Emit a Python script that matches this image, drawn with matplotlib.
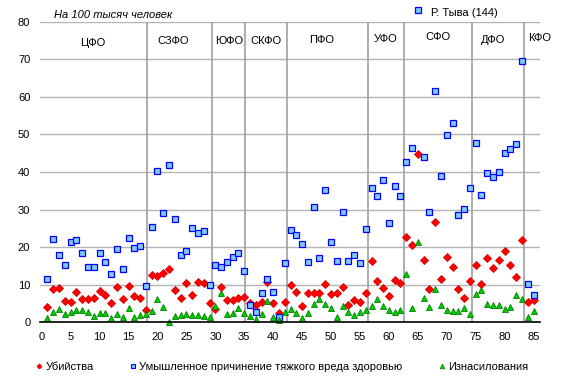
import matplotlib
matplotlib.use("Agg")
import matplotlib.pyplot as plt
from matplotlib.lines import Line2D

plt.rcParams['font.family'] = ['Liberation Sans', 'DejaVu Sans']

# номер региона 1..85
regions = list(range(1, 86))

murders = [4.1, 8.9, 9.1, 5.7, 5.4, 8.1, 6.2, 6.2, 6.5, 8.3,
           7.3, 5.1, 9.4, 6.2, 9.7, 7.0, 6.5, 3.3, 12.6, 12.2,
           13.1, 14.2, 8.6, 6.5, 10.5, 7.3, 10.7, 10.5, 5.1, 3.5,
           9.4, 5.9, 5.9, 6.5, 6.7, 5.1, 4.6, 5.4, 10.7, 5.1,
           2.5, 5.4, 9.9, 8.1, 4.3, 7.8, 7.8, 7.8, 10.2, 7.5,
           7.8, 9.4, 4.6, 5.9, 5.4, 7.8, 16.3, 11.0, 9.1, 6.9,
           11.3, 10.5, 22.7, 20.7, 44.7, 16.6, 8.8, 26.7, 11.4, 17.3,
           14.8, 8.8, 6.6, 11.1, 15.2, 10.1, 17.0, 14.4, 16.6, 18.9,
           15.2, 12.0, 21.8, 5.3, 5.9]

injuries = [11.5, 22.1, 18.0, 15.3, 21.4, 21.9, 18.5, 14.7, 14.7, 18.5,
            16.0, 12.9, 19.6, 14.3, 22.5, 19.8, 20.4, 9.7, 25.4, 40.2,
            29.1, 41.9, 27.6, 18.0, 19.0, 25.2, 23.8, 24.4, 10.0, 15.3,
            14.8, 16.0, 17.5, 18.5, 13.6, 4.5, 2.7, 7.8, 11.5, 8.1,
            1.4, 15.9, 24.6, 23.2, 20.9, 16.1, 30.8, 17.2, 35.3, 21.4,
            16.4, 29.4, 16.4, 18.0, 15.9, 24.9, 35.8, 33.7, 37.9, 26.5,
            36.3, 33.7, 42.7, 46.4, 144, 44.0, 29.4, 61.6, 39.0, 49.9,
            53.1, 28.6, 30.2, 35.8, 47.8, 33.9, 39.8, 38.7, 40.1, 45.1,
            46.2, 47.5, 69.6, 10.1, 7.3]

rapes = [1.1, 2.7, 3.5, 2.1, 2.7, 3.3, 3.3, 2.7, 1.6, 2.4,
         2.4, 1.1, 2.1, 1.3, 3.8, 1.3, 1.9, 2.1, 2.9, 6.1,
         4.0, 0.2, 1.6, 1.9, 2.1, 1.9, 1.9, 1.6, 1.3, 4.3,
         7.7, 2.1, 2.4, 3.7, 2.4, 1.6, 0.8, 2.1, 5.7, 1.3,
         0.5, 2.7, 3.5, 2.4, 1.1, 2.4, 4.8, 6.1, 4.8, 3.7,
         1.3, 4.3, 2.7, 1.9, 2.7, 3.2, 4.3, 6.1, 4.3, 3.2,
         2.7, 3.2, 12.8, 3.7, 21.4, 6.4, 4.0, 8.8, 4.5, 3.2,
         3.0, 3.0, 3.7, 2.1, 7.4, 8.5, 4.8, 4.5, 4.5, 3.5,
         4.0, 7.2, 6.1, 1.3, 2.9]

districts = ['ЦФО', 'СЗФО', 'ЮФО', 'СКФО', 'ПФО', 'УФО', 'СФО', 'ДФО', 'КФО']
district_label_x = [8.9, 22.7, 32.4, 38.8, 48.3, 59.4, 68.4, 78.0, 86.0]
district_label_y = [74.3, 74.9, 74.9, 74.9, 75.1, 75.4, 75.9, 75.1, 75.7]
district_bounds = [18.2, 29.4, 35.2, 42.4, 56.4, 62.6, 74.3, 83.4]

fig = plt.figure(figsize=(5.63, 3.91), dpi=100)
ax = fig.add_axes([0.071, 0.1757, 0.889, 0.7688])

ax.set_xlim(-0.3, 86.2)
ax.set_ylim(0, 80)
ax.set_xticks(range(0, 86, 5))
ax.set_yticks(range(0, 81, 10))
ax.tick_params(length=0, labelsize=8)
ax.tick_params(axis='x', pad=7)
ax.tick_params(axis='y', pad=7)
for s in ['top', 'right', 'left']:
    ax.spines[s].set_visible(False)
ax.spines['bottom'].set_color('black')
ax.spines['bottom'].set_linewidth(1.2)
ax.spines['bottom'].set_zorder(5)
ax.yaxis.grid(True, color='#b4b4b4', lw=1.0)
ax.set_axisbelow(True)

for b in district_bounds:
    ax.axvline(b, color='#a0a0a0', lw=1.2, zorder=1)

ax.plot(regions, murders, ls='none', marker='D', ms=3.6, mfc='#ff0000',
        mec='#e00000', mew=0.6, zorder=3, clip_on=False)
ax.plot(regions, injuries, ls='none', marker='s', ms=4.3, mfc='#80c8ff',
        mec='#0000ff', mew=0.9, zorder=4)
ax.plot(regions, rapes, ls='none', marker='^', ms=4.6, mfc='#00cc00',
        mec='#008000', mew=0.6, zorder=5, clip_on=False)

for name, x, y in zip(districts, district_label_x, district_label_y):
    ax.text(x, y, name, ha='center', va='center', fontsize=8, clip_on=False)

fig.text(54 / 563, 1 - 15 / 391, 'На 100 тысяч человек', style='italic',
         fontsize=8, va='center', ha='left')

# пометка для Тывы, значение вне шкалы
fig.add_artist(Line2D([418 / 563], [1 - 9.5 / 391], ls='none', marker='s', ms=4.3,
                      mfc='#80c8ff', mec='#0000ff', mew=0.9))
fig.text(431 / 563, 1 - 13 / 391, 'Р. Тыва (144)', fontsize=8, va='center', ha='left')

handles = [
    Line2D([], [], ls='none', marker='D', ms=2.6, mfc='#ff0000', mec='#e00000', mew=0.5),
    Line2D([], [], ls='none', marker='s', ms=3.2, mfc='#80c8ff', mec='#0000ff', mew=0.8),
    Line2D([], [], ls='none', marker='^', ms=3.4, mfc='#00cc00', mec='#008000', mew=0.5),
]
labels = ['Убийства', 'Умышленное причинение тяжкого вреда здоровью', 'Изнасилования']
fig.legend(handles, labels, loc='center', bbox_to_anchor=(282 / 563, 1 - 367 / 391),
           ncol=3, frameon=False, fontsize=8, handlelength=0.6, handletextpad=0.3,
           columnspacing=3.2)

fig.savefig('out.png', dpi=100)
